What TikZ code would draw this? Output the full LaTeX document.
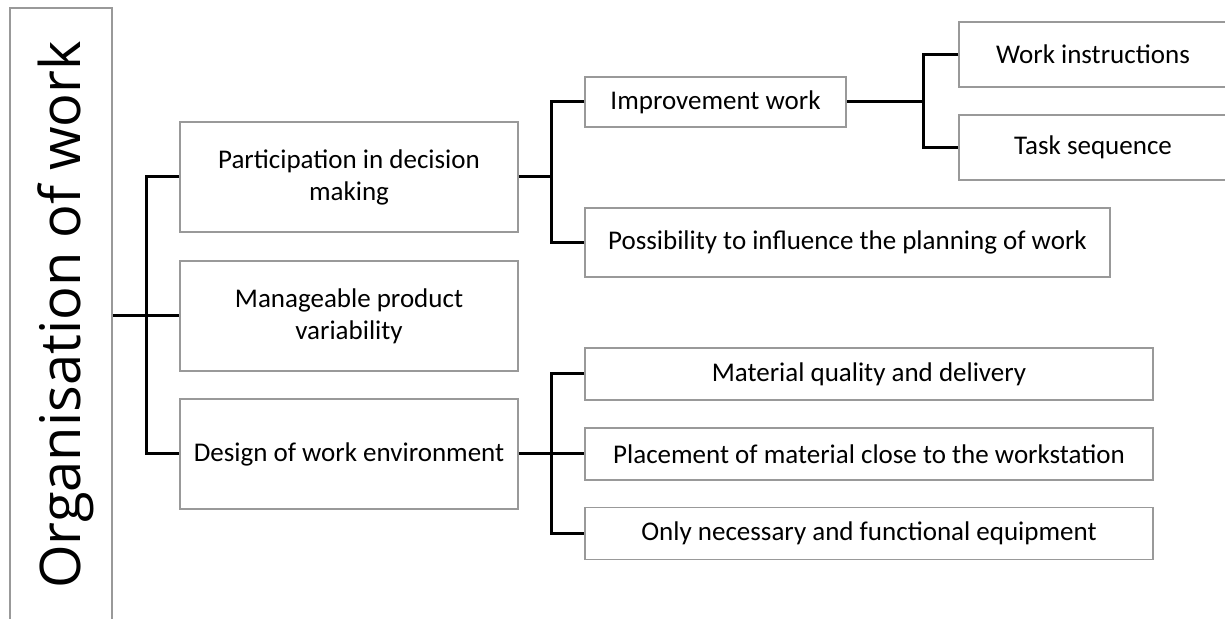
\documentclass[tikz,border=0pt]{standalone}
\usepackage{fontspec}
\setmainfont{Carlito}
\newfontfamily\titlefont{Open Sans}
\begin{document}
\begin{tikzpicture}[x=0.5pt,y=-0.5pt,
  box/.style={draw=black!40,line width=0.75pt,inner sep=0pt,align=center,
    font=\fontsize{13.5}{16}\selectfont},
  link/.style={line width=1.5pt}]
\useasboundingbox (0,0) rectangle (1225,619);
\clip (0,0) rectangle (1225,619);
% left column
\node[box,minimum width=51pt,minimum height=316pt] (orgbox) at (61,324) {};
\node[rotate=90,anchor=base,font=\titlefont\fontsize{28}{34}\selectfont] (title) at (80,315) {Organisation of work};
% first level
\node[box,minimum width=169pt,minimum height=55pt] (part) at (349,177) {Participation in decision\\making};
\node[box,minimum width=169pt,minimum height=55pt] (man) at (349,316) {Manageable product\\variability};
\node[box,minimum width=169pt,minimum height=55pt] (des) at (349,454) {Design of work environment};
% second level
\node[box,minimum width=130.5pt,minimum height=25pt] (imp) at (715.5,102) {Improvement work};
\node[box,minimum width=262.5pt,minimum height=34.5pt] (poss) at (847.5,242.5) {Possibility to influence the planning of work};
\node[box,minimum width=284pt,minimum height=26pt] (mat) at (869,374) {Material quality and delivery};
\node[box,minimum width=284pt,minimum height=26pt] (plac) at (869,454) {Placement of material close to the workstation};
\node[box,minimum width=284pt,minimum height=26pt] (only) at (869,533.5) {Only necessary and functional equipment};
% third level
\node[box,minimum width=134pt,minimum height=32.5pt] (wi) at (1093,54.5) {Work instructions};
\node[box,minimum width=134pt,minimum height=32.5pt] (ts) at (1093,147.5) {Task sequence};
% junctions
\coordinate (j1) at (146,316);
\coordinate (j2) at (551,177);
\coordinate (j3) at (551,454);
\coordinate (j4) at (923,102);
\draw[link] (orgbox.east |- man) -- (man.west);
\draw[link] (part.west) -| (j1) |- (des.west);
\draw[link] (part.east) -- (j2);
\draw[link] (imp.west) -| (j2) |- (poss.west);
\draw[link] (des.east) -- (plac.west);
\draw[link] (mat.west) -| (j3) |- (only.west);
\draw[link] (imp.east) -- (j4);
\draw[link] (wi.west) -| (j4) |- (ts.west);
\end{tikzpicture}
\end{document}
